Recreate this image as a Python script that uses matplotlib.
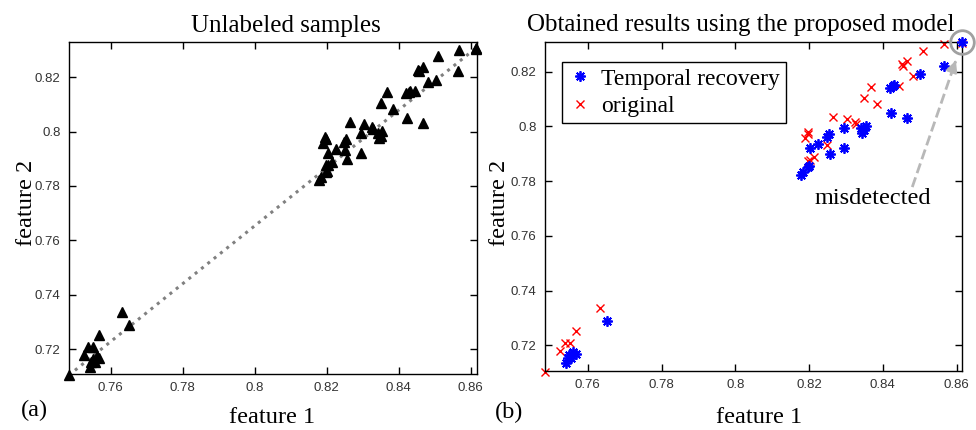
import numpy as np
import matplotlib
matplotlib.use('Agg')
import matplotlib.pyplot as plt

# Temporal recovery (blue stars)
blue_x = [0.8615, 0.8565, 0.8502, 0.8420, 0.8427, 0.8431, 0.8423, 0.8466,
          0.8341, 0.8345, 0.8350, 0.8354, 0.8294, 0.8294, 0.8249, 0.8253,
          0.8257, 0.8225, 0.8204, 0.8198, 0.8201, 0.8185, 0.8178,
          0.7652, 0.7541, 0.7550, 0.7561, 0.7568, 0.7546, 0.7555]
blue_y = [0.8308, 0.8222, 0.8191, 0.8140, 0.8146, 0.8150, 0.8048, 0.8031,
          0.7993, 0.7977, 0.7985, 0.8001, 0.7995, 0.7922, 0.7962, 0.7971,
          0.7899, 0.7935, 0.7920, 0.7850, 0.7855, 0.7834, 0.7822,
          0.7290, 0.7134, 0.7164, 0.7174, 0.7168, 0.7152, 0.7152]

# original (red crosses)
red_x = [0.8615, 0.8567, 0.8509, 0.8466, 0.8453, 0.8455, 0.8482, 0.8444,
         0.8368, 0.8350, 0.8384, 0.8264, 0.8303, 0.8325, 0.8328, 0.8196,
         0.8198, 0.8189, 0.8250, 0.8198, 0.8204, 0.8214,
         0.7632, 0.7567, 0.7537, 0.7552, 0.7525, 0.7483]
red_y = [0.8305, 0.8300, 0.8276, 0.8237, 0.8227, 0.8222, 0.8182, 0.8148,
         0.8145, 0.8105, 0.8082, 0.8035, 0.8026, 0.8017, 0.8008, 0.7981,
         0.7972, 0.7959, 0.7932, 0.7875, 0.7877, 0.7887,
         0.7335, 0.7252, 0.7207, 0.7207, 0.7179, 0.7103]

# unlabeled samples = all points together
all_x = np.array(blue_x + red_x)
all_y = np.array(blue_y + red_y)

xticks = [0.76, 0.78, 0.8, 0.82, 0.84, 0.86]
yticks = [0.72, 0.74, 0.76, 0.78, 0.8, 0.82]
tick_labels_x = ['0.76', '0.78', '0.8', '0.82', '0.84', '0.86']
tick_labels_y = ['0.72', '0.74', '0.76', '0.78', '0.8', '0.82']

serif = 'Liberation Serif'
big = 17.5      # axis labels
title_fs = 18   # titles

fig = plt.figure(figsize=(9.76, 4.30), dpi=100)
ax1 = fig.add_axes([0.0707, 0.1302, 0.418, 0.772])
ax2 = fig.add_axes([0.5584, 0.1372, 0.4273, 0.7651])


def style_axes(ax):
    ax.set_xticks(xticks)
    ax.set_xticklabels(tick_labels_x)
    ax.set_yticks(yticks)
    ax.set_yticklabels(tick_labels_y)
    ax.tick_params(direction='in', top=True, right=True, length=5, width=1,
                   labelsize=9.5, labelcolor='#333333', pad=6)
    for lab in ax.get_xticklabels() + ax.get_yticklabels():
        lab.set_family('Liberation Sans')
    for s in ax.spines.values():
        s.set_linewidth(1)


# (a) unlabeled samples
ax1.plot([all_x.min(), all_x.max()], [all_y.min(), all_y.max()], ':',
         color='#808080', lw=2.2, zorder=1)
ax1.plot(all_x, all_y, '^', color='black', ms=7, zorder=2, clip_on=False)
ax1.set_xlim(0.7484, 0.8617)
ax1.set_ylim(0.7108, 0.8329)
style_axes(ax1)
ax1.text(0.532, 1.031, 'Unlabeled samples', transform=ax1.transAxes,
         ha='center', va='baseline', family=serif, fontsize=title_fs)
ax1.text(0.497, -0.147, 'feature 1', transform=ax1.transAxes,
         ha='center', va='baseline', family=serif, fontsize=big)
ax1.text(-0.105, 0.515, 'feature 2', transform=ax1.transAxes, rotation=90,
         ha='center', va='center', family=serif, fontsize=big)

# (b) results of the proposed model
ax2.plot(blue_x, blue_y, ls='none', marker=(8, 2, 0), color='blue', ms=7.5,
         mew=1.3, label='Temporal recovery', clip_on=False, zorder=3)
ax2.plot(red_x, red_y, ls='none', marker='x', color='red', ms=5.5, mew=1,
         label='original', clip_on=False, zorder=2)
ax2.set_xlim(0.7484, 0.8615)
ax2.set_ylim(0.7106, 0.8308)
style_axes(ax2)
ax2.text(0.470, 1.032, 'Obtained results using the proposed model',
         transform=ax2.transAxes, ha='center', va='baseline', family=serif,
         fontsize=title_fs)
ax2.text(0.513, -0.159, 'feature 1', transform=ax2.transAxes,
         ha='center', va='baseline', family=serif, fontsize=big)
ax2.text(-0.108, 0.512, 'feature 2', transform=ax2.transAxes, rotation=90,
         ha='center', va='center', family=serif, fontsize=big)

leg = ax2.legend(loc='upper left', bbox_to_anchor=(0.041, 0.939),
                 prop={'family': serif, 'size': 17}, numpoints=1,
                 handlelength=1.0, handletextpad=0.4, borderpad=0.25,
                 labelspacing=0.25, borderaxespad=0, fancybox=False,
                 framealpha=1, edgecolor='black')
leg.get_frame().set_linewidth(1)

# misdetected point marker
ax2.plot(blue_x[0], blue_y[0], 'o', mfc='none', mec='#a0a0a0', ms=17, mew=2,
         clip_on=False, zorder=4)
tail = (0.8480, 0.7778)
head = (0.8601, 0.8250)
ax2.plot([tail[0], 0.8596], [tail[1], 0.8232], '--', color='#b8b8b8', lw=2,
         clip_on=False, zorder=1)
ax2.annotate('', xy=head, xytext=(0.8594, 0.8225),
             arrowprops=dict(arrowstyle='-|>', color='#b8b8b8', lw=2,
                             mutation_scale=16), annotation_clip=False)
ax2.text(0.8374, 0.7735, 'misdetected', ha='center', va='center',
         family=serif, fontsize=big)

fig.text(34 / 976, 1 - 410 / 430, '(a)', ha='center', va='center',
         family=serif, fontsize=big)
fig.text(509 / 976, 1 - 412 / 430, '(b)', ha='center', va='center',
         family=serif, fontsize=big)

plt.savefig('out.png', dpi=100)
